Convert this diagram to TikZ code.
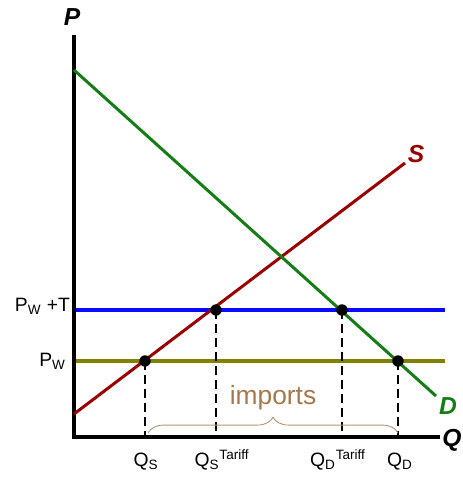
\documentclass[tikz,border=0pt]{standalone}
\usepackage{fontspec}
\setmainfont{Liberation Sans}
\usepackage{xcolor}
\usetikzlibrary{decorations.pathreplacing}
\definecolor{supred}{RGB}{155,0,0}
\definecolor{demgreen}{RGB}{20,125,20}
\definecolor{tarblue}{RGB}{10,10,250}
\definecolor{worldolive}{RGB}{130,130,0}
\definecolor{impbrown}{RGB}{165,120,75}

\begin{document}
\begin{tikzpicture}[
  x=0.02cm, y=-0.02cm,
  axis/.style={line width=2.3pt},
  curve/.style={line width=1.7pt},
  price/.style={line width=2.1pt},
  drop/.style={dash pattern=on 5pt off 3pt, line width=0.6pt},
  pt/.style={circle, fill=black, inner sep=0pt, minimum size=6.5pt},
  lab/.style={font=\fontsize{11}{13}\selectfont, inner sep=1pt},
  axlab/.style={font=\fontsize{14}{16}\selectfont\bfseries\itshape, inner sep=0pt}]
  \useasboundingbox (0,0) rectangle (463,477);

  % axes
  \coordinate (top)    at (74,35);
  \coordinate (origin) at (74,437);
  \coordinate (right)  at (440,437);
  \draw[axis] (top) -- (origin) -- (right);
  \node[axlab] (plab) at (72,17) {P};
  \node[axlab] (qlab) at (452,440) {Q};

  % price lines
  \coordinate (pwtL) at (76,310);
  \coordinate (pwtR) at (445,310);
  \coordinate (pwL)  at (76,361);
  \coordinate (pwR)  at (445,361);
  \draw[price, tarblue] (pwtL) -- (pwtR);
  \draw[price, worldolive] (pwL) -- (pwR);

  % supply and demand
  \coordinate (sA) at (74,414);
  \coordinate (sB) at (405,163);
  \coordinate (dA) at (74,70);
  \coordinate (dB) at (436,396);
  \draw[curve, supred] (sA) -- (sB);
  \draw[curve, demgreen] (dA) -- (dB);
  \node[axlab, supred] (slab) at (416,154) {S};
  \node[axlab, demgreen] (dlab) at (448,406) {D};

  % points
  \node[pt] (qs)  at (145,361) {};
  \node[pt] (qst) at (216,310) {};
  \node[pt] (qdt) at (342,310) {};
  \node[pt] (qd)  at (398,361) {};
  \foreach \n in {qs,qst,qdt,qd}
    \draw[drop] (\n.center) -- (\n.center |- origin);

  % imports brace
  \coordinate (brL) at (148,433);
  \coordinate (brR) at (398,433);
  \draw[impbrown!80, line width=0.5pt, decorate,
        decoration={brace, amplitude=9pt}] (brL) -- (brR);
  \node[font=\fontsize{15}{17}\selectfont, impbrown] (imp) at (273,398) {imports};

  % labels
  \node[lab] (qslab)  at (146,462) {Q\textsubscript{S}};
  \node[lab] (qstlab) at (222,460) {Q\textsubscript{S}\textsuperscript{Tariff}};
  \node[lab] (qdtlab) at (338,460) {Q\textsubscript{D}\textsuperscript{Tariff}};
  \node[lab] (qdlab)  at (400,462) {Q\textsubscript{D}};
  \node[lab, anchor=east] (pwtlab) at (72,306) {P\textsubscript{W} +T};
  \node[lab, anchor=east] (pwlab)  at (68,361) {P\textsubscript{W}};
\end{tikzpicture}
\end{document}
